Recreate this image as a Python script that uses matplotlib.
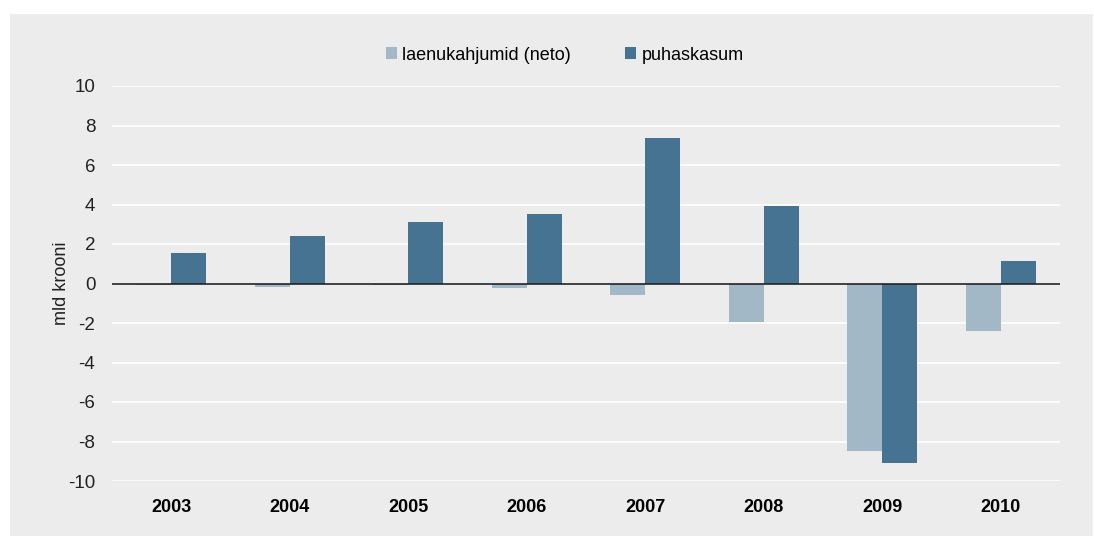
import numpy as np
import matplotlib.pyplot as plt
from matplotlib.patches import Rectangle

plt.rcParams['font.family'] = ['Liberation Sans', 'DejaVu Sans']
plt.rcParams['axes.unicode_minus'] = False

years = ["2003", "2004", "2005", "2006", "2007", "2008", "2009", "2010"]
laenukahjumid = [-0.09, -0.2, -0.08, -0.25, -0.6, -1.97, -8.46, -2.38]
puhaskasum = [1.52, 2.43, 3.09, 3.54, 7.39, 3.9, -9.11, 1.16]

light = "#a3b8c7"
dark = "#467391"
bg = "#ebeceb"

fig = plt.figure(figsize=(10.94, 5.36), dpi=100)
fig.patches.append(Rectangle((10 / 1094, 0), 1 - 11 / 1094, 1 - 14 / 536,
                             transform=fig.transFigure, facecolor=bg,
                             edgecolor="none", zorder=-10))

ax = fig.add_axes([112 / 1094, 55 / 536, 948 / 1094, 395 / 536])
ax.set_facecolor(bg)

x = np.arange(len(years))
w = 0.295
ax.bar(x - w / 2, laenukahjumid, w, color=light, label="laenukahjumid (neto)", zorder=2)
ax.bar(x + w / 2, puhaskasum, w, color=dark, label="puhaskasum", zorder=2)

ax.set_xlim(-0.5, len(years) - 0.5)
ax.set_ylim(-10, 10)
ax.set_yticks(np.arange(-10, 11, 2))
ax.grid(axis="y", color="white", linewidth=1.2, zorder=0)
ax.axhline(0, color="#222222", linewidth=1.2, zorder=3)

ax.set_xticks(x)
ax.set_xticklabels(years, fontsize=13, fontweight="bold")
ax.tick_params(axis="x", length=0, pad=13)
ax.tick_params(axis="y", length=0, pad=12, labelsize=13.5, labelcolor="#222222")
for s in ax.spines.values():
    s.set_visible(False)

ax.set_ylabel("mld krooni", fontsize=13, color="#222222")
ax.yaxis.set_label_coords(-42 / 948, 0.5)

fig.legend(loc="center", bbox_to_anchor=(565 / 1094, 1 - 55 / 536), ncol=2,
           frameon=False, fontsize=13, handlelength=0.6, handleheight=0.6,
           handletextpad=0.3, columnspacing=3.0)

fig.savefig("out.png", dpi=100, facecolor="white")
